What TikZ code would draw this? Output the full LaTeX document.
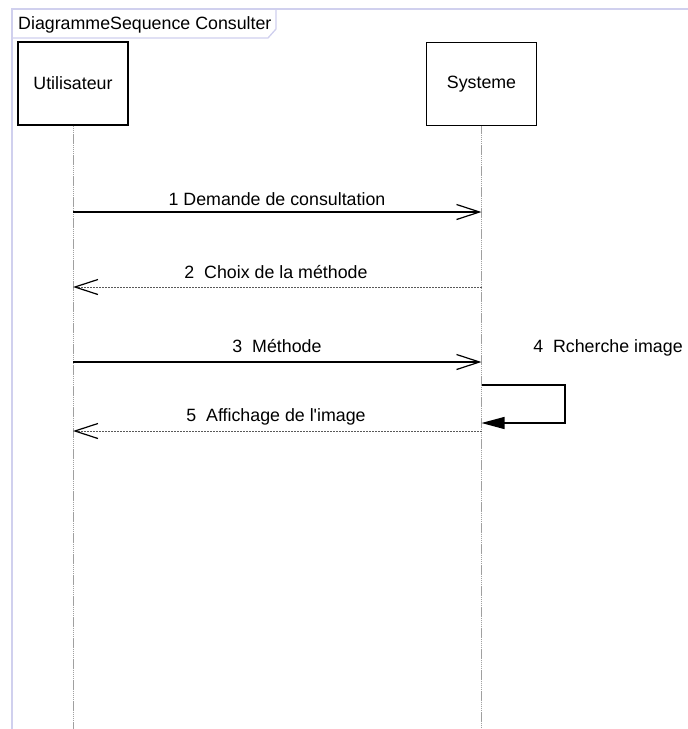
\documentclass[tikz,border=0pt]{standalone}
\usepackage{fontspec}
\setmainfont{Liberation Sans}[Ligatures=TeXOff]
\usetikzlibrary{arrows.meta}
\definecolor{framelav}{RGB}{208,208,238}
\definecolor{lifegray}{RGB}{160,160,160}
\begin{document}
\begin{tikzpicture}[x=1pt,y=-1pt,
  font=\fontsize{17.8}{20}\selectfont,
  frameline/.style={draw=framelav, line width=1.3pt},
  actor/.style={draw=black, line width=1.2pt, minimum width=110pt,
    minimum height=83pt, inner sep=0pt},
  lifeline/.style={draw=lifegray, line width=1pt, dash pattern=on 1.5pt off 0.6pt},
  openhead/.style={-{Straight Barb[length=23pt,width=15pt,line width=1.2pt,color=black]}},
  call/.style={draw=black, line width=1.5pt, openhead},
  reply/.style={draw=gray!70!black, line width=0.8pt, dash pattern=on 2pt off 1pt, openhead},
  selfcall/.style={draw=black, line width=1.2pt, -{Triangle[length=23pt,width=12pt]}},
  msglabel/.style={anchor=base, inner sep=0pt}
]
\useasboundingbox (0,0) rectangle (688,729);

% diagram frame and its title tab
\draw[frameline] (688,9) -- (12,9) -- (12,729);
\draw[frameline] (12,38) -- (268,38) -- (276,29) -- (276,9);
\node[anchor=base west, inner sep=0pt] (title) at (18,29) {DiagrammeSequence Consulter};

% participants
\node[actor] (u) at (73,83.5) {Utilisateur};
\node[actor] (s) at (481.5,84) {Systeme};

% lifelines
\coordinate (uend) at (73,729);
\coordinate (send) at (481.5,729);
\draw[lifeline] (u.south) -- (uend);
\draw[lifeline] (s.south) -- (send);

% message anchor points on the lifelines
\coordinate (m1u) at (73,212);   \coordinate (m1s) at (481.5,212);
\coordinate (m2u) at (73,287);   \coordinate (m2s) at (481.5,287);
\coordinate (m3u) at (73,362);   \coordinate (m3s) at (481.5,362);
\coordinate (m4a) at (481.5,385); \coordinate (m4b) at (481.5,423);
\coordinate (m5u) at (73,431);   \coordinate (m5s) at (481.5,431);
\coordinate (loopA) at (565,385); \coordinate (loopB) at (565,423);

% messages
\draw[call] (m1u) -- (m1s);
\node[msglabel] (l1) at (277,205) {1 Demande de consultation};

\draw[reply] (m2s) -- (m2u);
\node[msglabel] (l2) at (276,278) {2\ \ Choix de la méthode};

\draw[call] (m3u) -- (m3s);
\node[msglabel] (l3) at (277,352) {3\ \ Méthode};

\draw[selfcall] (m4a) -- (loopA) -- (loopB) -- (m4b);
\node[msglabel] (l4) at (608,352) {4\ \ Rcherche image};

\draw[reply] (m5s) -- (m5u);
\node[msglabel] (l5) at (276,421) {5\ \ Affichage de l'image};
\end{tikzpicture}
\end{document}
